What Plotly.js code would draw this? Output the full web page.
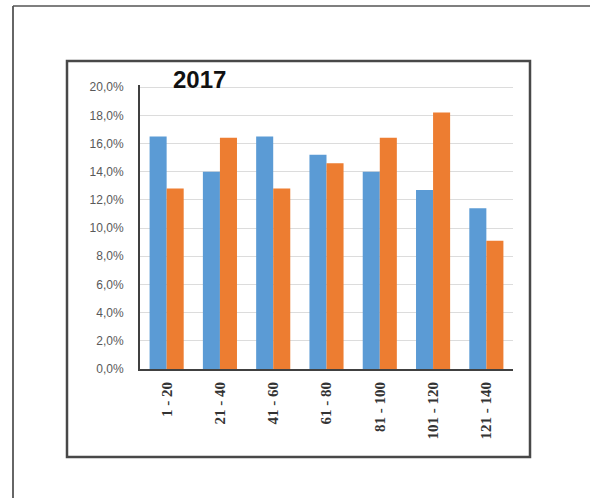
<!DOCTYPE html>
<html>
<head>
<meta charset="utf-8">
<script src="https://cdn.plot.ly/plotly-3.0.1.min.js"></script>
<style>
html,body{margin:0;padding:0;background:#fff;}
#chart{width:590px;height:498px;}
</style>
</head>
<body>
<div id="chart"></div>
<script>
const categories = ["1 - 20", "21 - 40", "41 - 60", "61 - 80", "81 - 100", "101 - 120", "121 - 140"];
const seriesBlue = [16.5, 14.0, 16.5, 15.2, 14.0, 12.7, 11.4];
const seriesOrange = [12.8, 16.4, 12.8, 14.6, 16.4, 18.2, 9.1];
const yTickVals = [0, 2, 4, 6, 8, 10, 12, 14, 16, 18, 20];
const yTickText = ["0,0%", "2,0%", "4,0%", "6,0%", "8,0%", "10,0%", "12,0%", "14,0%", "16,0%", "18,0%", "20,0%"];
const chartTitle = "2017";

// plot area in pixels
const L = 140, R = 513, T = 85, B = 369;
const px = x => (x - L) / (R - L);
const py = y => (B - y) / (B - T);

const traces = [
  {type: "bar", x: categories, y: seriesBlue, marker: {color: "#5B9BD5"}, hoverinfo: "none"},
  {type: "bar", x: categories, y: seriesOrange, marker: {color: "#ED7D31"}, hoverinfo: "none"}
];

const layout = {
  width: 590, height: 498,
  margin: {l: L, r: 590 - R, t: T, b: 498 - B, pad: 0},
  paper_bgcolor: "#ffffff", plot_bgcolor: "#ffffff",
  showlegend: false,
  barmode: "group", bargap: 0.36, bargroupgap: 0,
  separators: ",.",
  xaxis: {
    type: "category",
    tickangle: -90,
    showgrid: false, zeroline: false,
    showline: true, linecolor: "#404040", linewidth: 2,
    ticks: "", ticklabelstandoff: 5,
    tickfont: {family: "Liberation Serif, Times New Roman, serif", size: 15, color: "#333333", weight: "bold"}
  },
  yaxis: {
    range: [0, 20.15],
    tickvals: yTickVals, ticktext: yTickText,
    showgrid: true, gridcolor: "#dcdcdc", gridwidth: 1,
    zeroline: false,
    showline: true, linecolor: "#404040", linewidth: 2,
    ticks: "", ticklabelstandoff: 12,
    tickfont: {family: "Liberation Sans, Arial, sans-serif", size: 12, color: "#595959"}
  },
  annotations: [{
    text: "<b>" + chartTitle + "</b>",
    xref: "paper", yref: "paper",
    x: px(199), y: py(79), xanchor: "center", yanchor: "middle",
    showarrow: false,
    font: {family: "Liberation Sans, Arial, sans-serif", size: 24, color: "#111111"}
  }],
  shapes: [
    // outer frame (left and top edges)
    {type: "line", xref: "paper", yref: "paper", x0: px(13), y0: py(6), x1: px(13), y1: py(510), line: {color: "#333333", width: 1.5}},
    {type: "line", xref: "paper", yref: "paper", x0: px(13), y0: py(6), x1: px(600), y1: py(6), line: {color: "#555555", width: 1.5}},
    // inner box
    {type: "rect", xref: "paper", yref: "paper", x0: px(67), y0: py(61), x1: px(530), y1: py(457), line: {color: "#484848", width: 2.5}}
  ]
};

Plotly.newPlot("chart", traces, layout, {staticPlot: true, displayModeBar: false});
</script>
</body>
</html>
